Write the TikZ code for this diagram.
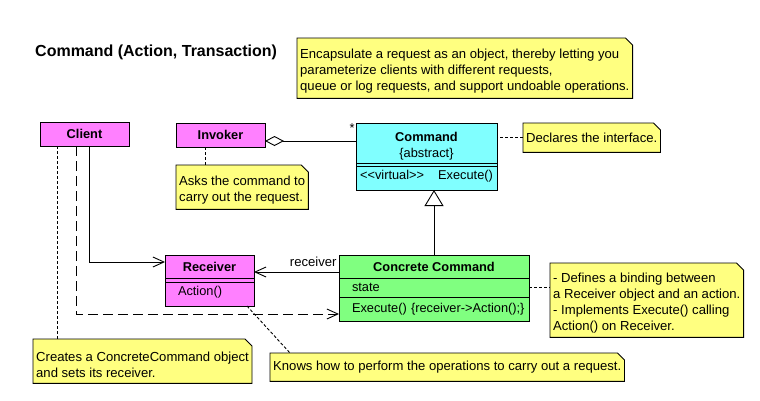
\documentclass[tikz,border=0pt]{standalone}
\usepackage{fontspec}
\setmainfont{Liberation Sans}
\usepackage{tikz}
\usetikzlibrary{positioning,arrows.meta,backgrounds}
\definecolor{umlpink}{HTML}{FF80FF}
\definecolor{umlcyan}{HTML}{80FFFF}
\definecolor{umlgreen}{HTML}{80FF80}
\definecolor{noteyellow}{HTML}{FFFF80}
\newcommand{\umlfont}{\fontsize{12.8}{16}\selectfont}
\newcommand{\notefont}{\fontsize{13.1}{16}\selectfont}
\newcommand{\notestrut}{\rule{0pt}{16pt}} % pushes several lines down a bit
% note outline with the folded corner
\newcommand{\dognote}[1]{%
  \filldraw[notefold] (#1.south west) -- (#1.north west) -- ([xshift=-7pt]#1.north east)
    -- ([yshift=-7pt]#1.north east) -- (#1.south east) -- cycle;}
\tikzset{
  classhead/.style 2 args={draw, line width=0.9pt, anchor=north west, outer sep=0pt, inner xsep=3pt, inner ysep=0pt,
                           minimum width=#1, minimum height=#2, align=center, font=\bfseries\umlfont},
  classbody/.style 2 args={classhead={#1}{#2}, font=\umlfont},
  memberbox/.style 2 args={draw, line width=0.9pt, outer sep=0pt, inner xsep=3pt, inner ysep=0pt,
                           text width=#1, minimum height=#2, align=left, font=\umlfont,
                           execute at begin node={\hspace*{10pt}}},
  pinkbox/.style={fill=umlpink},
  cyanbox/.style={fill=umlcyan},
  greenbox/.style={fill=umlgreen},
  notebox/.style={anchor=north west, inner xsep=3pt, inner ysep=0pt, minimum height=#1, align=left, font=\notefont},
  notefold/.style={fill=noteyellow, draw=black, line width=0.9pt},
  titletext/.style={anchor=west, inner sep=0pt, font=\bfseries\fontsize{16}{19}\selectfont},
  conn/.style={line width=0.9pt},
  navarrow/.style={conn, -{Straight Barb[length=11pt, width=10pt]}},
  aggr/.style={conn, {Diamond[open, length=19pt, width=10pt]}-},
  inherit/.style={conn, -{Triangle[open, length=16pt, width=19pt]}},
  depend/.style={navarrow, dash pattern=on 10pt off 5pt},
  notelink/.style={conn, dash pattern=on 3pt off 2pt},
}

\begin{document}
\begin{tikzpicture}[x=1pt, y=-1pt]
  \useasboundingbox (0,0) rectangle (760,400);
  \node[titletext] (title) at (35,52) {Command (Action, Transaction)};

  % classes
  \node[classhead={89pt}{24pt}, pinkbox] (client) at (40,122) {Client};
  \node[classhead={89pt}{24pt}, pinkbox] (invoker) at (176,123) {Invoker};
  \node[classhead={141pt}{40pt}, cyanbox] (cmdhead) at (356,123) {\notestrut Command\\\mdseries\{abstract\}};
  \node[classbody={141pt}{27pt}, cyanbox, below=0pt of cmdhead] (cmdbody)
    {<\kern0pt<virtual>\kern0pt>\hspace{14pt}Execute()};
  \node[classhead={89pt}{23pt}, pinkbox] (recvhead) at (165,255) {Receiver};
  \node[memberbox={83pt}{28pt}, pinkbox, below=0pt of recvhead] (recvbody) {Action()};
  \node[classhead={190pt}{23pt}, greenbox] (conchead) at (339,255) {Concrete Command};
  \node[memberbox={184pt}{19pt}, greenbox, below=0pt of conchead] (concstate) {state};
  \node[memberbox={184pt}{24pt}, greenbox, below=0pt of concstate] (concexec)
    {Execute() \{receiver->Action();\}};
  \draw[conn] ([yshift=-3pt]cmdbody.north west) -- ([yshift=-3pt]cmdbody.north east);
  \draw[conn] ([yshift=-4pt]recvbody.north west) -- ([yshift=-4pt]recvbody.north east);

  % notes
  \node[notebox=60pt] (note1) at (297,38)
    {\notestrut Encapsulate a request as an object, thereby letting you\\parameterize clients with different requests,\\queue or log requests, and support undoable operations.};
  \node[notebox=44pt] (note2) [below=18pt of invoker.south west, anchor=north west]
    {\notestrut Asks the command to\\carry out the request.};
  \node[notebox=29pt] (note3) [right=26pt of cmdhead.north east, anchor=north west] {Declares the interface.};
  \node[notebox=74pt] (note4) at (550,263)
    {\notestrut - Defines a binding between\\a Receiver object and an action.\\- Implements Execute() calling\\Action() on Receiver.};
  \node[notebox=44pt] (note5) at (33,339) {\notestrut Creates a ConcreteCommand object\\and sets its receiver.};
  \node[notebox=28pt] (note6) at (270,353) {Knows how to perform the operations to carry out a request.};

  \begin{scope}[on background layer]
    \fill[white] (0,0) rectangle (760,400);
    \foreach \n in {note1,note2,note3,note4,note5,note6} {\dognote{\n}}
  \end{scope}

  % connectors
  \coordinate (aggstart) at ([yshift=-6pt]invoker.east);
  \draw[aggr] (aggstart) -- (aggstart -| cmdhead.west)
    node[pos=1, anchor=south east, inner sep=1pt, yshift=7pt, font=\umlfont] (mult) {*};
  \draw[inherit] (conchead.north) -- (conchead.north |- cmdbody.south);
  \draw[navarrow] ([yshift=-5.5pt]conchead.west) -- ([yshift=-5.5pt]recvhead.east)
    node[pos=0, anchor=base east, inner sep=0pt, xshift=-2pt, yshift=6pt, font=\notefont] (role) {receiver};
  \coordinate (clientsolid) at ([xshift=4.5pt]client.south);
  \coordinate (clientdash) at ([xshift=-8.5pt]client.south);
  \coordinate (clientnote) at ([xshift=-27.5pt]client.south);
  \draw[navarrow] (clientsolid) |- ([yshift=4.5pt]recvhead.west);
  \draw[depend] (clientdash) |- ([yshift=-5pt]concexec.west);
  \draw[notelink] (clientnote) -- (clientnote |- note5.north);
  \coordinate (invnote) at ([xshift=-15.5pt]invoker.south);
  \draw[notelink] (invnote) -- (invnote |- note2.north);
  \draw[notelink] (note3.west) -- (note3.west -| cmdhead.east);
  \draw[notelink] (concstate.east) -- (concstate.east -| note4.west);
  \draw[notelink] ([xshift=-7pt]recvbody.south east) -- ([xshift=20pt]note6.north west);
\end{tikzpicture}
\end{document}
